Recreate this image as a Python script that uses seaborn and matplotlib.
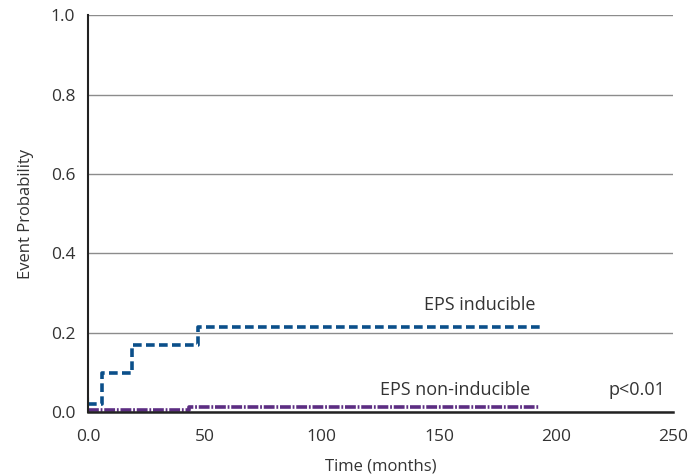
import matplotlib
matplotlib.use("Agg")
import matplotlib.pyplot as plt
import seaborn as sns

# ---------- DATA ----------

time_inducible = [0, 0, 6, 19, 47, 193]
prob_inducible = [0.0, 0.038, 0.098, 0.17, 0.215, 0.215]

time_noninducible = [0, 43, 193]
prob_noninducible = [0.005, 0.012, 0.012]

y_ticks = [0.0, 0.2, 0.4, 0.6, 0.8, 1.0]
x_ticks = [0, 50, 100, 150, 200, 250]
x_tick_labels = ["0.0", "50", "100", "150", "200", "250"]

# ---------- STYLE ----------

sns.set_style("white")
plt.rcParams["font.family"] = ["Open Sans", "DejaVu Sans"]

blue = "#0b4f8a"
purple = "#5c2d82"
text_color = "#333333"

fig = plt.figure(figsize=(6.92, 4.75), dpi=100)
ax = fig.add_axes([0.127, 0.1326, 0.8455, 0.835])

# ---------- CURVES ----------

sns.lineplot(
    x=time_inducible,
    y=prob_inducible,
    drawstyle="steps-post",
    color=blue,
    linewidth=2.6,
    ax=ax
)
ax.lines[-1].set_dashes((2.4, 1.2))
ax.lines[-1].set_clip_on(False)

sns.lineplot(
    x=time_noninducible,
    y=prob_noninducible,
    drawstyle="steps-post",
    color=purple,
    linewidth=2.6,
    ax=ax
)
ax.lines[-1].set_dashes((3.0, 0.5, 0.5, 0.5))
ax.lines[-1].set_clip_on(False)

# ---------- AXES ----------

ax.set_xlim(0, 250)
ax.set_ylim(0, 1.0)

ax.set_yticks(y_ticks)
ax.set_yticklabels([f"{v:.1f}" for v in y_ticks])
ax.set_xticks(x_ticks)
ax.set_xticklabels(x_tick_labels)

ax.yaxis.grid(True, color="#8c8c8c", linewidth=1.0)
ax.xaxis.grid(False)
ax.set_axisbelow(True)

for side in ["top", "right"]:
    ax.spines[side].set_visible(False)
ax.spines["left"].set_color("#222222")
ax.spines["left"].set_linewidth(1.5)
ax.spines["bottom"].set_color("#222222")
ax.spines["bottom"].set_linewidth(1.8)

ax.tick_params(axis="y", length=0, labelsize=12.5,
               labelcolor=text_color, pad=9)
ax.tick_params(axis="x", length=0, labelsize=12.5,
               labelcolor=text_color, pad=12)

ax.set_xlabel("Time (months)", fontsize=12, color=text_color, labelpad=10)
ax.set_ylabel("Event Probability", fontsize=12, color=text_color, labelpad=12)

# ---------- ANNOTATIONS ----------

ax.text(167.5, 0.27, "EPS inducible", ha="center", va="center",
        fontsize=13, color=text_color)
ax.text(157, 0.055, "EPS non-inducible", ha="center", va="center",
        fontsize=13, color=text_color)
ax.text(234.5, 0.055, "p<0.01", ha="center", va="center",
        fontsize=13, color=text_color)

fig.savefig("out.png", dpi=100)
